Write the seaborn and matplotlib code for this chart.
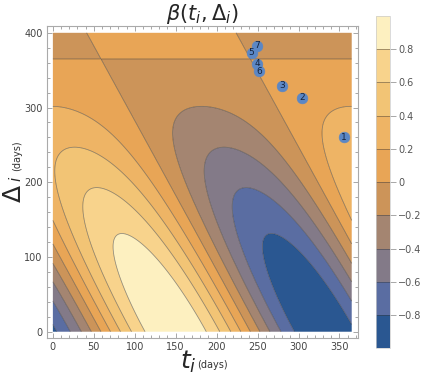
import numpy as np
import matplotlib
matplotlib.use("Agg")
import matplotlib.pyplot as plt
from matplotlib.colors import ListedColormap, BoundaryNorm
from matplotlib.ticker import MultipleLocator
import seaborn as sns
import pandas as pd

# ---- data ----
# field parameters (seasonal cycle averaged over [t, t+Δ])
PERIOD_DAYS = 365.0
PEAK_DAY = 150.0
T_RANGE = [0, 365]
D_RANGE = [0, 400]
levels = [-1.0, -0.8, -0.6, -0.4, -0.2, 0.0, 0.2, 0.4, 0.6, 0.8, 1.0]
band_colors = ["#2a5791", "#5a6da2", "#837a88", "#a48571", "#cc9459",
               "#e8a556", "#eeb465", "#f2c475", "#f8d38c", "#fdf0c0"]
cbar_ticks = [-0.8, -0.6, -0.4, -0.2, 0, 0.2, 0.4, 0.6, 0.8]
cbar_labels = ["\u22120.8", "\u22120.6", "\u22120.4", "\u22120.2", "0",
               "0.2", "0.4", "0.6", "0.8"]
point_ids = ["1", "2", "3", "4", "5", "6", "7"]
point_t = [355.7, 304.0, 279.7, 249.2, 242.7, 252.0, 249.2]
point_d = [260.4, 313.0, 329.0, 358.5, 373.2, 348.3, 382.6]

# ---- figure ----
sns.set_style("white")
fig = plt.figure(figsize=(4.21, 3.78), dpi=100)
ax = fig.add_axes([0.111, 0.1066, 0.740, 0.8244])
cax = fig.add_axes([0.893, 0.0786, 0.033, 0.879])

t = np.linspace(T_RANGE[0], T_RANGE[1], 500)
d = np.linspace(D_RANGE[0], D_RANGE[1], 500)
T, D = np.meshgrid(t, d)
w = 2 * np.pi / PERIOD_DAYS
Z = np.sinc(D / PERIOD_DAYS) * np.cos(w * (T + D / 2 - PEAK_DAY))

cmap = ListedColormap(band_colors)
norm = BoundaryNorm(levels, cmap.N)
cf = ax.contourf(T, D, Z, levels=levels, cmap=cmap, norm=norm, antialiased=True)
cs = ax.contour(T, D, Z, levels=levels[1:-1], colors="#333333",
                linewidths=0.55, alpha=0.55, linestyles="solid")

df = pd.DataFrame({"t": point_t, "d": point_d, "id": point_ids})
sns.scatterplot(data=df, x="t", y="d", ax=ax, s=60, color="#5b87c5",
                edgecolor="#5b87c5", linewidth=0.4, zorder=5, legend=False)
for ti, di, lab in zip(point_t, point_d, point_ids):
    ax.text(ti, di, lab, ha="center", va="center", fontsize=6.5,
            color="#15233d", zorder=6)

ax.set_xlim(-7.5, 373)
ax.set_ylim(-8, 409)
ax.set_xlabel("")
ax.set_ylabel("")
ax.xaxis.set_major_locator(MultipleLocator(50))
ax.xaxis.set_minor_locator(MultipleLocator(10))
ax.yaxis.set_major_locator(MultipleLocator(100))
ax.yaxis.set_minor_locator(MultipleLocator(20))
ax.tick_params(which="both", direction="in", top=True, right=True,
               bottom=True, left=True, color="#999999", width=0.6,
               labelsize=7, labelcolor="#444444", pad=3)
ax.tick_params(which="major", length=3.5)
ax.tick_params(which="minor", length=2)
for sp in ax.spines.values():
    sp.set_color("#aaaaaa")
    sp.set_linewidth(0.8)

ax.set_title(r"$\beta(t_i,\Delta_i)$", fontsize=15, pad=3)

# x label: t_i with small "(days)"
fig.text(0.448, 0.008, r"$t_i$", fontsize=18, ha="center", va="bottom")
fig.text(0.468, 0.022, "(days)", fontsize=7, ha="left", va="bottom", color="#333333")

# y label: Δ, small italic i, small "(days)" as separate pieces
fig.text(0.005, 0.487, r"$\Delta$", fontsize=18, ha="left", va="center", rotation=90)
fig.text(0.057, 0.519, r"$i$", fontsize=11, ha="right", va="bottom", rotation=90)
fig.text(0.053, 0.548, "(days)", fontsize=7, ha="right", va="bottom",
         rotation=90, color="#333333")

cb = fig.colorbar(cf, cax=cax, ticks=cbar_ticks)
cb.add_lines(cs)
cb.ax.set_yticklabels(cbar_labels)
cb.ax.tick_params(length=4, width=0.6, color="#999999", labelsize=7,
                  labelcolor="#555555", pad=2)
cb.ax.minorticks_off()
cb.outline.set_edgecolor("#cccccc")
cb.outline.set_linewidth(0.5)

fig.savefig("out.png", dpi=100)
